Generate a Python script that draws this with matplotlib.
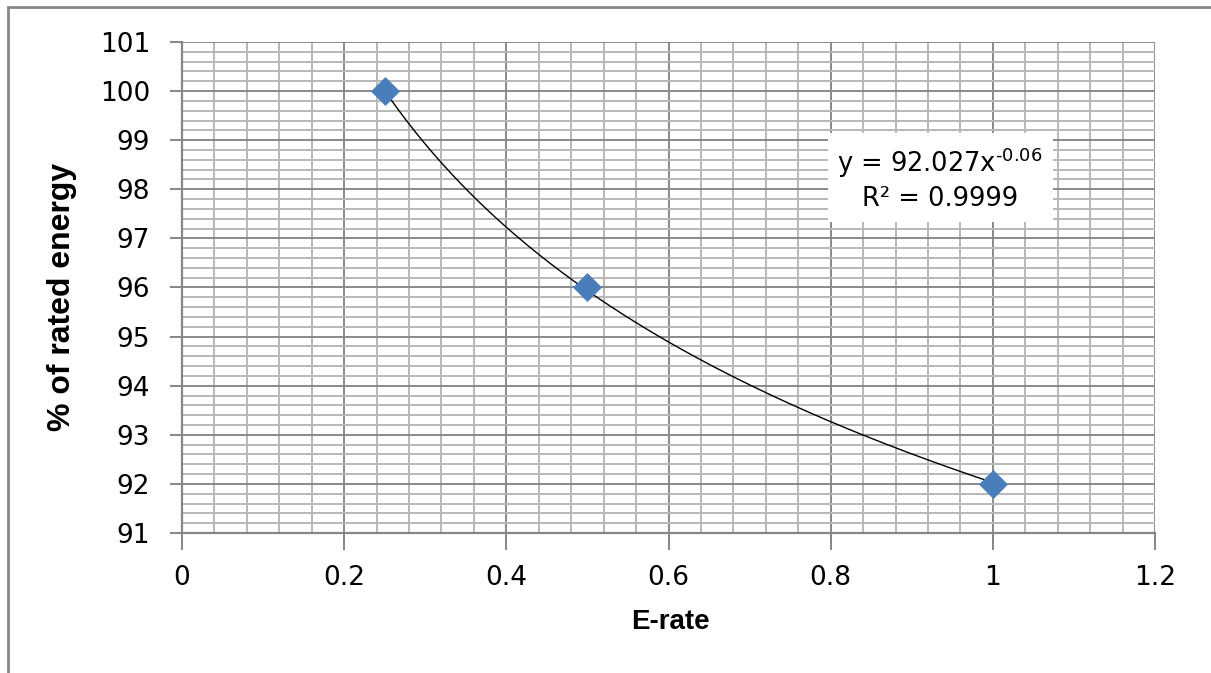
import matplotlib
matplotlib.use("Agg")
import matplotlib.pyplot as plt
import numpy as np
from matplotlib.ticker import MultipleLocator, FuncFormatter
from matplotlib.patches import Rectangle

# Measured energy vs discharge rate
e_rate = [0.25, 0.5, 1.0]
pct_energy = [100.0, 96.0, 92.0]

# Power-law trendline coefficients
coef_a = 92.027
coef_b = -0.06
r_squared = 0.9999

x_ticks = [0, 0.2, 0.4, 0.6, 0.8, 1.0, 1.2]
y_ticks = [91, 92, 93, 94, 95, 96, 97, 98, 99, 100, 101]

plt.rcParams['font.family'] = ['DejaVu Sans']
plt.rcParams['mathtext.fontset'] = 'dejavusans'

W, H = 1211, 673
fig = plt.figure(figsize=(W / 100, H / 100), dpi=100)

# chart border
fig.patches.append(Rectangle((8 / W, -0.1), 1.2, (H - 7) / H + 0.1,
                             transform=fig.transFigure, fill=False,
                             edgecolor='#868686', linewidth=2.0))

left, right, top, bottom = 182, 1155, 42, 533
ax = fig.add_axes([left / W, 1 - bottom / H, (right - left) / W, (bottom - top) / H])

ax.set_xlim(0, 1.2)
ax.set_ylim(91, 101)
ax.set_xticks(x_ticks)
ax.set_yticks(y_ticks)
ax.xaxis.set_minor_locator(MultipleLocator(0.04))
ax.yaxis.set_minor_locator(MultipleLocator(0.2))
ax.xaxis.set_major_formatter(FuncFormatter(lambda v, p: f"{v:g}"))

ax.grid(which='major', color='#8a8a8a', linewidth=1.4)
ax.grid(which='minor', color='#b8b8b8', linewidth=1.4)
ax.set_axisbelow(True)

for s in ['top', 'right']:
    ax.spines[s].set_visible(False)
for s in ['left', 'bottom']:
    ax.spines[s].set_color('#868686')
    ax.spines[s].set_linewidth(1.6)

ax.tick_params(axis='x', which='major', length=12, width=1.4, color='#868686',
               labelsize=19, pad=11)
ax.tick_params(axis='y', which='major', length=9, width=1.4, color='#868686',
               labelsize=19, pad=14)
ax.tick_params(which='minor', length=0)

# trendline
xt = np.linspace(min(e_rate), max(e_rate), 200)
ax.plot(xt, coef_a * xt ** coef_b, color='black', linewidth=1.0, zorder=3)

# data points
ax.scatter(e_rate, pct_energy, marker='D', s=190, color='#4a7ebb',
           edgecolors='#4a7ebb', zorder=4, clip_on=False)

# axis titles
fig.text(670 / W, 1 - 622 / H, 'E-rate', fontsize=20, fontweight='bold',
         family='Liberation Sans', ha='center', va='center')
fig.text(62 / W, 1 - 297 / H, '% of rated energy', fontsize=23, fontweight='bold',
         family='Liberation Sans', rotation=90, ha='center', va='center')

# trendline equation
eq1 = f"y = {coef_a:.3f}x" + r"$^{\text{" + f"{coef_b:g}" + r"}}$"
eq2 = f"R² = {r_squared:.4f}"
ax.text(0.935, 98.22, eq1 + "\n" + eq2, fontsize=18.5, ha='center', va='center',
        linespacing=1.3,
        bbox=dict(facecolor='white', edgecolor='none', pad=7),
        zorder=5)

fig.savefig('out.png', dpi=100)
